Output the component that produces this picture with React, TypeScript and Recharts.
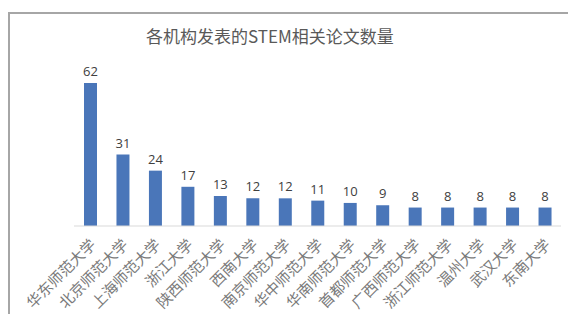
import { BarChart, Bar, XAxis, YAxis, LabelList } from 'recharts';

const institutions = [
  '华东师范大学',
  '北京师范大学',
  '上海师范大学',
  '浙江大学',
  '陕西师范大学',
  '西南大学',
  '南京师范大学',
  '华中师范大学',
  '华南师范大学',
  '首都师范大学',
  '广西师范大学',
  '浙江师范大学',
  '温州大学',
  '武汉大学',
  '东南大学',
];

const paperCounts = [62, 31, 24, 17, 13, 12, 12, 11, 10, 9, 8, 8, 8, 8, 8];

const chartTitle = '各机构发表的STEM相关论文数量';

const data = institutions.map((name, i) => ({ name, count: paperCounts[i] }));

const RotatedTick = (props: any) => {
  const { x, y, payload } = props;
  return (
    <g transform={`translate(${x + 3},${y + 8})`}>
      <text
        textAnchor="end"
        transform="rotate(-45)"
        fontSize={15}
        fill="#7a7a7a"
        fontFamily="'Noto Sans CJK SC', sans-serif"
        dy={5}
      >
        {payload.value}
      </text>
    </g>
  );
};

export default function App() {
  return (
    <div style={{ position: 'absolute', left: 0, top: 0, width: 568, height: 314, background: '#fff', overflow: 'hidden' }}>
      <div
        style={{
          position: 'absolute',
          left: 8,
          top: 12,
          width: 600,
          height: 340,
          borderLeft: '2px solid #a6a6a6',
          borderTop: '2px solid #a6a6a6',
        }}
      />
      <div
        style={{
          position: 'absolute',
          left: 0,
          top: 23,
          width: 540,
          textAlign: 'center',
          fontSize: 17,
          color: '#595959',
          fontFamily: "'Noto Sans CJK SC', sans-serif",
        }}
      >
        {chartTitle}
      </div>
      <div style={{ position: 'absolute', left: 0, top: 0 }}>
        <BarChart
          width={568}
          height={314}
          data={data}
          margin={{ top: 83, right: 7, bottom: 0, left: 74 }}
          barSize={13}
        >
          <XAxis
            dataKey="name"
            axisLine={{ stroke: '#d9d9d9' }}
            tickLine={false}
            interval={0}
            tick={<RotatedTick />}
            height={88}
          />
          <YAxis hide domain={[0, 62]} />
          <Bar dataKey="count" fill="#4a76b9" isAnimationActive={false}>
            <LabelList
              dataKey="count"
              position="top"
              offset={7}
              fill="#404040"
              fontSize={13}
              fontFamily="'Open Sans', sans-serif"
            />
          </Bar>
        </BarChart>
      </div>
    </div>
  );
}
